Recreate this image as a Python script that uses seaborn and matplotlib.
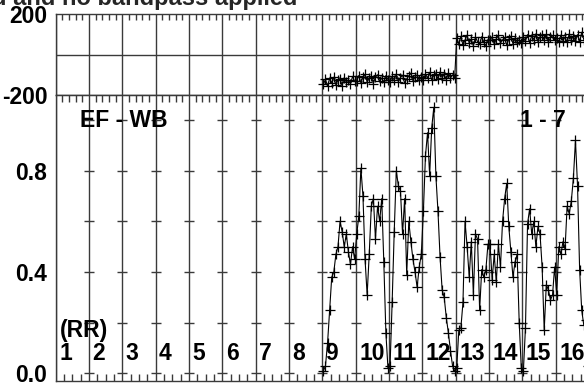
import matplotlib
matplotlib.use("Agg")
import matplotlib.pyplot as plt
from matplotlib.ticker import MultipleLocator, FixedLocator, NullFormatter, FormatStrFormatter
import pandas as pd
import seaborn as sns

# --- values ---
title_text = "d and no bandpass applied"
baseline_label = "EF - WB"
source_label = "1 - 7"
pol_label = "(RR)"
if_numbers = list(range(1, 17))
data_ifs = [9, 10, 11, 12, 13, 14, 15, 16]
n_chan = 16

amp_if9 = [0.01, 0.03, 0.12, 0.25, 0.38, 0.40, 0.47, 0.50, 0.60, 0.56, 0.50, 0.55, 0.48, 0.43, 0.50, 0.45]
amp_if10 = [0.55, 0.62, 0.81, 0.70, 0.45, 0.31, 0.47, 0.66, 0.69, 0.53, 0.66, 0.60, 0.69, 0.44, 0.16, 0.02]
amp_if11 = [0.03, 0.28, 0.56, 0.80, 0.74, 0.72, 0.55, 0.69, 0.39, 0.60, 0.52, 0.45, 0.40, 0.34, 0.42, 0.47]
amp_if12 = [0.64, 0.86, 0.95, 0.78, 0.97, 1.05, 0.78, 0.64, 0.46, 0.33, 0.30, 0.22, 0.16, 0.09, 0.03, 0.01]
amp_if13 = [0.02, 0.17, 0.18, 0.28, 0.60, 0.50, 0.38, 0.52, 0.31, 0.55, 0.53, 0.25, 0.41, 0.38, 0.41, 0.51]
amp_if14 = [0.51, 0.37, 0.47, 0.36, 0.51, 0.42, 0.60, 0.69, 0.75, 0.58, 0.48, 0.38, 0.44, 0.47, 0.20, 0.02]
amp_if15 = [0.01, 0.18, 0.59, 0.65, 0.55, 0.60, 0.50, 0.58, 0.55, 0.42, 0.17, 0.35, 0.33, 0.29, 0.31, 0.42]
amp_if16 = [0.31, 0.50, 0.47, 0.52, 0.49, 0.66, 0.63, 0.68, 0.77, 0.92, 0.74, 0.41, 0.25, 0.19, 0.21, 0.03]

phase_if9 = [-148, -122, -158, -118, -140, -112, -150, -126, -120, -156, -114, -138, -124, -146, -108, -132]
phase_if10 = [-130, -104, -140, -112, -98, -136, -118, -106, -144, -110, -100, -132, -116, -138, -104, -124]
phase_if11 = [-136, -108, -126, -96, -134, -114, -102, -142, -120, -106, -92, -130, -112, -100, -128, -112]
phase_if12 = [-124, -96, -116, -88, -126, -102, -94, -120, -86, -114, -98, -124, -92, -116, -100, -118]
phase_if13 = [82, 52, 90, 46, 72, 96, 56, 76, 42, 86, 64, 50, 88, 60, 44, 74]
phase_if14 = [70, 88, 50, 78, 94, 56, 72, 84, 46, 76, 90, 54, 82, 62, 74, 58]
phase_if15 = [84, 66, 98, 58, 92, 74, 102, 64, 88, 96, 70, 100, 60, 84, 94, 72]
phase_if16 = [82, 62, 96, 68, 86, 60, 102, 72, 92, 66, 98, 64, 110, 74, 90, 70]

amp_ticks = [0.0, 0.4, 0.8]
amp_marks = [0.0, 0.2, 0.4, 0.6, 0.8, 1.0]
phase_ticks = [-200, 200]

amp_all = amp_if9 + amp_if10 + amp_if11 + amp_if12 + amp_if13 + amp_if14 + amp_if15 + amp_if16
phase_all = phase_if9 + phase_if10 + phase_if11 + phase_if12 + phase_if13 + phase_if14 + phase_if15 + phase_if16
xpos = [(k - 1) + (c + 0.5) / n_chan for k in data_ifs for c in range(n_chan)]
df = pd.DataFrame({"x": xpos, "amp": amp_all, "phase": phase_all})

sns.set_style("white")
plt.rcParams["font.family"] = ["Liberation Sans", "DejaVu Sans"]
plt.rcParams["font.weight"] = "bold"
plt.rcParams["axes.unicode_minus"] = False

W, H = 584, 386
fig = plt.figure(figsize=(W / 100, H / 100), dpi=100)
left = 55.7 / W
width = (589 - 55.7) / W
ax_ph = fig.add_axes([left, 1 - 95 / H, width, (95 - 14) / H])
ax_amp = fig.add_axes([left, 1 - 381 / H, width, (381 - 95) / H])

grid_col = "#3a3a3a"
line_kw = dict(color="black", linewidth=0.8, marker="+", markersize=7.5,
               markeredgewidth=0.9, markeredgecolor="black",
               sort=False, estimator=None, zorder=3)
sns.lineplot(data=df, x="x", y="phase", ax=ax_ph, **line_kw)
sns.lineplot(data=df, x="x", y="amp", ax=ax_amp, **line_kw)

if_bounds = list(range(0, len(if_numbers) + 1))
for ax in (ax_ph, ax_amp):
    ax.set_xlim(0, len(if_numbers))
    ax.set_xlabel("")
    ax.set_ylabel("")
    for b in if_bounds:
        ax.axvline(b, color=grid_col, lw=1.0, zorder=1)
    for s in ax.spines.values():
        s.set_color(grid_col)
        s.set_linewidth(1.0)
    ax.xaxis.set_major_locator(MultipleLocator(1))
    ax.xaxis.set_major_formatter(NullFormatter())
    ax.tick_params(axis="y", labelsize=16.5, colors="black", pad=6)

# phase panel
ax_ph.set_ylim(-200, 200)
ax_ph.axhline(0, color=grid_col, lw=1.0, zorder=1)
ax_ph.yaxis.set_major_locator(FixedLocator(phase_ticks))
ax_ph.yaxis.set_major_formatter(FormatStrFormatter("%d"))
ax_ph.tick_params(axis="y", which="major", length=0, direction="in")
ax_ph.xaxis.set_minor_locator(MultipleLocator(0.2))
ax_ph.tick_params(axis="x", which="both", bottom=False, top=True,
                  labelbottom=False, direction="in", color=grid_col, width=1)
ax_ph.tick_params(axis="x", which="minor", length=4)
ax_ph.tick_params(axis="x", which="major", length=0)

# amplitude panel
ax_amp.set_ylim(-0.03, 1.099)
ax_amp.yaxis.set_major_locator(FixedLocator(amp_ticks))
ax_amp.yaxis.set_minor_locator(FixedLocator(amp_marks))
ax_amp.yaxis.set_major_formatter(FormatStrFormatter("%.1f"))
ax_amp.tick_params(axis="y", which="both", direction="in", length=5,
                   color=grid_col, width=1, right=False)
ax_amp.xaxis.set_minor_locator(MultipleLocator(0.25))
ax_amp.tick_params(axis="x", which="both", bottom=True, top=False,
                   labelbottom=False, direction="in", color=grid_col, width=1)
ax_amp.tick_params(axis="x", which="minor", length=5)
ax_amp.tick_params(axis="x", which="major", length=0)
sec = ax_amp.secondary_xaxis("top")
sec.xaxis.set_major_locator(MultipleLocator(1))
sec.xaxis.set_minor_locator(MultipleLocator(0.2))
sec.xaxis.set_major_formatter(NullFormatter())
sec.tick_params(which="both", direction="in", color=grid_col, width=1, labeltop=False)
sec.tick_params(which="minor", length=5)
sec.tick_params(which="major", length=0)
sec.spines["top"].set_color(grid_col)

# short horizontal marks where the value levels cross each IF boundary
cross_x = [b for b in if_bounds[1:] for _ in amp_marks]
cross_y = [v for _ in if_bounds[1:] for v in amp_marks]
ax_amp.plot(cross_x, cross_y, ls="none", marker="_", ms=7.5, mew=1.0,
            color=grid_col, zorder=2)

# labels
txt = dict(fontsize=16.5, fontweight="bold", color="black", zorder=4)
ax_amp.text(0.73, 1.0, baseline_label, va="center", ha="left", **txt)
ax_amp.text(13.93, 1.0, source_label, va="center", ha="left", **txt)
ax_amp.text(0.12, 0.168, pol_label, va="center", ha="left", **txt)
for n in if_numbers:
    ax_amp.text(n - 1 + 0.1, 0.08, str(n), va="center", ha="left", **txt)

fig.text(297 / W, 1 - 5 / H, title_text, ha="right", va="baseline",
         fontsize=17, fontweight="bold")

fig.savefig("out.png", dpi=100)
